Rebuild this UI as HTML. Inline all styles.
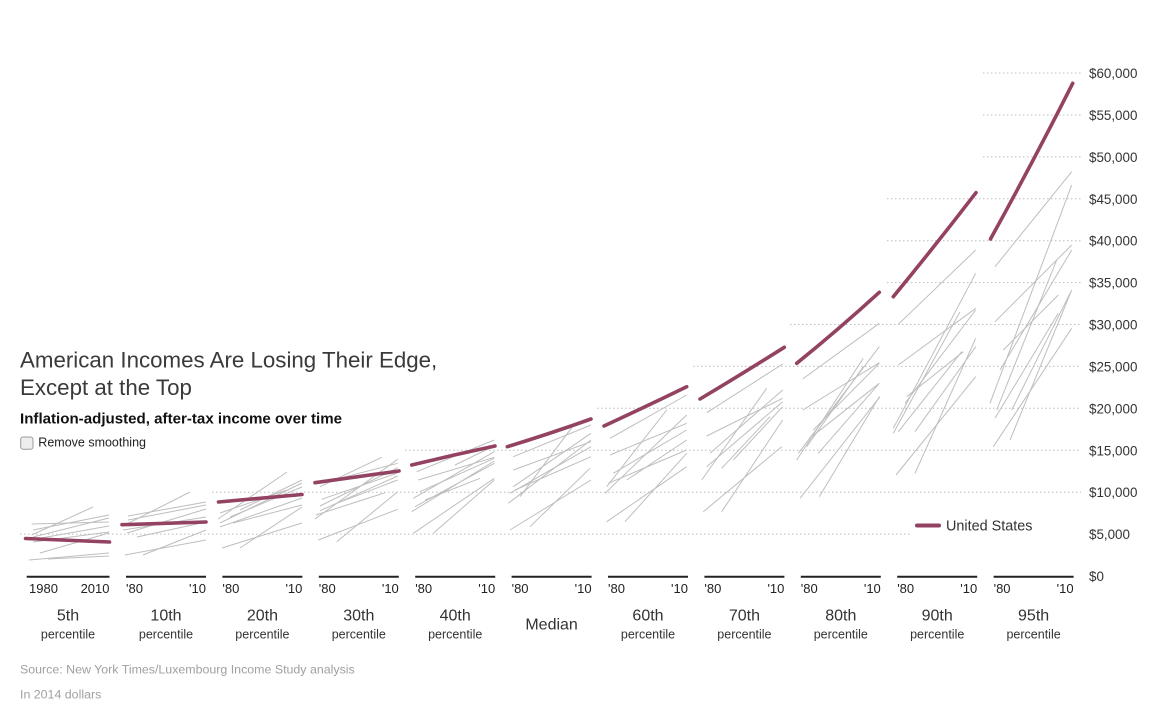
<!DOCTYPE html>
<html>
<head>
<meta charset="utf-8">
<style>
html,body{margin:0;padding:0;background:#fff;}
body{width:1164px;height:715px;overflow:hidden;}
svg{display:block;font-family:"Liberation Sans",Arial,sans-serif;}
.g{stroke:#bcbcbc;stroke-width:1;stroke-dasharray:1.5,2.5;}
.c{stroke:#bebebe;stroke-width:1;fill:none;}
.us{stroke:#934262;stroke-width:3.6;stroke-linecap:round;fill:none;}
.base{stroke:#222;stroke-width:2;}
.yl{font-size:13.4px;fill:#333;}
.tk{font-size:13px;fill:#222;}
.big{font-size:16px;fill:#333;}
.pc{font-size:12.5px;fill:#333;}
</style>
</head>
<body>
<svg width="1164" height="715" viewBox="0 0 1164 715" xmlns="http://www.w3.org/2000/svg">
<!-- gridlines -->
<line class="g" x1="20" y1="534.1" x2="911" y2="534.1"/>
<line class="g" x1="212" y1="492.2" x2="1081" y2="492.2"/>
<line class="g" x1="405" y1="450.3" x2="1081" y2="450.3"/>
<line class="g" x1="597" y1="408.3" x2="1081" y2="408.3"/>
<line class="g" x1="693" y1="366.4" x2="1081" y2="366.4"/>
<line class="g" x1="790" y1="324.5" x2="1081" y2="324.5"/>
<line class="g" x1="887" y1="282.6" x2="1081" y2="282.6"/>
<line class="g" x1="887" y1="240.7" x2="1081" y2="240.7"/>
<line class="g" x1="887" y1="198.8" x2="1081" y2="198.8"/>
<line class="g" x1="983" y1="156.9" x2="1081" y2="156.9"/>
<line class="g" x1="983" y1="115" x2="1081" y2="115"/>
<line class="g" x1="983" y1="73" x2="1081" y2="73"/>

<!-- y labels -->
<text class="yl" x="1089" y="78">$60,000</text>
<text class="yl" x="1089" y="120">$55,000</text>
<text class="yl" x="1089" y="161.9">$50,000</text>
<text class="yl" x="1089" y="203.8">$45,000</text>
<text class="yl" x="1089" y="245.7">$40,000</text>
<text class="yl" x="1089" y="287.6">$35,000</text>
<text class="yl" x="1089" y="329.5">$30,000</text>
<text class="yl" x="1089" y="371.4">$25,000</text>
<text class="yl" x="1089" y="413.3">$20,000</text>
<text class="yl" x="1089" y="455.3">$15,000</text>
<text class="yl" x="1089" y="497.2">$10,000</text>
<text class="yl" x="1089" y="539.1">$5,000</text>
<text class="yl" x="1089" y="581">$0</text>

<!-- gray country lines -->
<g class="c">
<!-- 5th -->
<line x1="31.7" y1="524" x2="109" y2="522"/>
<line x1="31.7" y1="535" x2="93" y2="507"/>
<line x1="33" y1="530" x2="109" y2="515"/>
<line x1="33" y1="537" x2="109" y2="518"/>
<line x1="33" y1="542" x2="109" y2="532"/>
<line x1="40" y1="553" x2="109" y2="533"/>
<line x1="29" y1="560" x2="109" y2="553"/>
<line x1="48" y1="559" x2="109" y2="556"/>
<line x1="30" y1="540" x2="109" y2="526"/>
<!-- 10th -->
<line x1="128" y1="516" x2="206" y2="502"/>
<line x1="125" y1="525" x2="190" y2="492"/>
<line x1="128" y1="520" x2="206" y2="505"/>
<line x1="123" y1="530" x2="206" y2="517"/>
<line x1="137" y1="537" x2="206" y2="522"/>
<line x1="125" y1="555" x2="206" y2="540"/>
<line x1="143" y1="555" x2="206" y2="530"/>
<line x1="127" y1="533" x2="206" y2="509"/>
<!-- 20th -->
<line x1="220" y1="523" x2="302" y2="483"/>
<line x1="222" y1="548" x2="302" y2="523"/>
<line x1="240" y1="548" x2="302" y2="507"/>
<line x1="220" y1="527" x2="302" y2="498"/>
<line x1="230" y1="517" x2="302" y2="487"/>
<line x1="240" y1="510" x2="302" y2="480"/>
<line x1="233" y1="523" x2="302" y2="505"/>
<line x1="220" y1="513" x2="287" y2="490"/>
<line x1="218" y1="519" x2="287" y2="472"/>
<!-- 30th -->
<line x1="320" y1="486.7" x2="381.7" y2="457.3"/>
<line x1="315" y1="519" x2="397.7" y2="459.3"/>
<line x1="320" y1="506" x2="397.7" y2="467.7"/>
<line x1="321.7" y1="499.3" x2="396.7" y2="473.3"/>
<line x1="316" y1="515" x2="385" y2="492.7"/>
<line x1="320" y1="510.7" x2="397.7" y2="476"/>
<line x1="318.3" y1="540" x2="397.7" y2="509.3"/>
<line x1="336.7" y1="541.7" x2="397.7" y2="491.7"/>
<line x1="336.7" y1="503.3" x2="397.7" y2="480"/>
<line x1="320" y1="483.3" x2="397.7" y2="463.3"/>
<!-- 40th -->
<line x1="416.7" y1="471.7" x2="494.3" y2="440"/>
<line x1="418.3" y1="480" x2="494.3" y2="457.3"/>
<line x1="413.3" y1="498.3" x2="494.3" y2="451.7"/>
<line x1="411.7" y1="511.7" x2="494.3" y2="461"/>
<line x1="413.3" y1="533.3" x2="494.3" y2="478.3"/>
<line x1="433.3" y1="533.3" x2="494.3" y2="480"/>
<line x1="425" y1="500" x2="480" y2="478.3"/>
<line x1="415" y1="506.7" x2="494.3" y2="463.3"/>
<line x1="420" y1="491.7" x2="494.3" y2="458.3"/>
<line x1="455" y1="465" x2="494" y2="446"/>
<!-- Median -->
<line x1="513.3" y1="456.7" x2="591" y2="425"/>
<line x1="513.3" y1="470" x2="591" y2="441.7"/>
<line x1="508.3" y1="503.3" x2="591" y2="440"/>
<line x1="510" y1="493.3" x2="591" y2="446.7"/>
<line x1="515" y1="490" x2="591" y2="456.7"/>
<line x1="510" y1="530" x2="591" y2="480"/>
<line x1="530" y1="526.7" x2="590" y2="468.3"/>
<line x1="520" y1="496.7" x2="575" y2="423.3"/>
<line x1="513.3" y1="486.7" x2="591" y2="433.3"/>
<!-- 60th -->
<line x1="610" y1="438.3" x2="686.7" y2="395"/>
<line x1="610" y1="455" x2="686.7" y2="423.3"/>
<line x1="605" y1="493.3" x2="686.7" y2="415"/>
<line x1="606.7" y1="521.7" x2="686.7" y2="466.7"/>
<line x1="625" y1="521.7" x2="686.7" y2="453.3"/>
<line x1="606.7" y1="486.7" x2="666.7" y2="410"/>
<line x1="613.3" y1="473.3" x2="686.7" y2="430"/>
<line x1="626.7" y1="480" x2="686.7" y2="440"/>
<line x1="608.3" y1="483.3" x2="686.7" y2="450"/>
<!-- 70th -->
<line x1="706.7" y1="412.7" x2="782.7" y2="364"/>
<line x1="706.7" y1="436" x2="782.7" y2="398.3"/>
<line x1="701.7" y1="480" x2="766.7" y2="388.3"/>
<line x1="703.3" y1="511.7" x2="781.7" y2="446.7"/>
<line x1="721.7" y1="511.7" x2="782.7" y2="420"/>
<line x1="710" y1="453.3" x2="782.7" y2="390"/>
<line x1="721.7" y1="468.3" x2="770" y2="416.7"/>
<line x1="706.7" y1="466.7" x2="782.7" y2="401.7"/>
<line x1="733.3" y1="460" x2="782.7" y2="406.7"/>
<!-- 80th -->
<line x1="802.7" y1="379" x2="879.3" y2="323.3"/>
<line x1="802.7" y1="410" x2="879.3" y2="362.7"/>
<line x1="796.7" y1="460" x2="863.3" y2="358.3"/>
<line x1="800" y1="498.3" x2="880" y2="396.7"/>
<line x1="819.3" y1="496.7" x2="879.3" y2="396.7"/>
<line x1="798.3" y1="453.3" x2="879.3" y2="346.7"/>
<line x1="811.7" y1="436.7" x2="879.3" y2="383.3"/>
<line x1="818.3" y1="453.3" x2="879.3" y2="383.3"/>
<line x1="806.7" y1="446.7" x2="863.3" y2="366.7"/>
<line x1="813.3" y1="430" x2="879.3" y2="363.3"/>
<!-- 90th -->
<line x1="898.3" y1="324.3" x2="975.7" y2="250"/>
<line x1="898.3" y1="365" x2="975.7" y2="308.3"/>
<line x1="896" y1="475" x2="975.7" y2="376.7"/>
<line x1="915" y1="473.3" x2="975.7" y2="338.3"/>
<line x1="893.3" y1="428.3" x2="975.7" y2="273.3"/>
<line x1="898.3" y1="431.7" x2="961.7" y2="351.7"/>
<line x1="915" y1="431.7" x2="975.7" y2="346.7"/>
<line x1="905" y1="403.3" x2="975.7" y2="310"/>
<line x1="893.3" y1="433.3" x2="960" y2="311.7"/>
<line x1="906.7" y1="396.7" x2="963.3" y2="351.7"/>
<!-- 95th -->
<line x1="995" y1="266.7" x2="1071.7" y2="171.7"/>
<line x1="995" y1="321.7" x2="1071.7" y2="245"/>
<line x1="993.3" y1="446.7" x2="1071.7" y2="328.3"/>
<line x1="1010" y1="440" x2="1071.7" y2="290"/>
<line x1="990" y1="403.3" x2="1071.7" y2="185"/>
<line x1="995" y1="418.3" x2="1058.3" y2="313.3"/>
<line x1="1003.3" y1="350" x2="1058.3" y2="295"/>
<line x1="1000" y1="370" x2="1071.7" y2="250"/>
<line x1="1011.7" y1="410" x2="1070" y2="293.3"/>
<line x1="996.7" y1="410" x2="1056.7" y2="260"/>
</g>

<!-- US lines -->
<g class="us">
<line x1="25.5" y1="538.5" x2="109.5" y2="542"/>
<line x1="122" y1="524.7" x2="206" y2="522"/>
<line x1="218.5" y1="502" x2="302" y2="494.5"/>
<line x1="315" y1="482.7" x2="399" y2="471"/>
<path d="M411.7 465 Q453 455 495 446"/>
<path d="M507.3 446.7 Q549 434 591 419"/>
<path d="M604 426 Q645 407 686.7 386.7"/>
<path d="M700 399 Q742 374 784.3 347.3"/>
<path d="M796.7 363.3 Q838 330 879.3 292.3"/>
<path d="M893.3 296.7 Q935 246 976 192.7"/>
<path d="M990.5 239 Q1032 164 1072.7 83.3"/>
</g>

<!-- baselines -->
<g class="base">
<line x1="26.7" y1="576.7" x2="109.5" y2="576.7"/>
<line x1="126" y1="576.7" x2="206" y2="576.7"/>
<line x1="222.4" y1="576.7" x2="302.4" y2="576.7"/>
<line x1="318.8" y1="576.7" x2="398.8" y2="576.7"/>
<line x1="415.2" y1="576.7" x2="495.2" y2="576.7"/>
<line x1="511.6" y1="576.7" x2="591.6" y2="576.7"/>
<line x1="608" y1="576.7" x2="688" y2="576.7"/>
<line x1="704.4" y1="576.7" x2="784.4" y2="576.7"/>
<line x1="800.8" y1="576.7" x2="880.8" y2="576.7"/>
<line x1="897.2" y1="576.7" x2="977.2" y2="576.7"/>
<line x1="993.6" y1="576.7" x2="1073.6" y2="576.7"/>
</g>

<!-- tick labels -->
<g class="tk">
<text x="29" y="593">1980</text><text x="109.5" y="593" text-anchor="end">2010</text>
<text x="126" y="593">'80</text><text x="206" y="593" text-anchor="end">'10</text>
<text x="222.4" y="593">'80</text><text x="302.4" y="593" text-anchor="end">'10</text>
<text x="318.8" y="593">'80</text><text x="398.8" y="593" text-anchor="end">'10</text>
<text x="415.2" y="593">'80</text><text x="495.2" y="593" text-anchor="end">'10</text>
<text x="511.6" y="593">'80</text><text x="591.6" y="593" text-anchor="end">'10</text>
<text x="608" y="593">'80</text><text x="688" y="593" text-anchor="end">'10</text>
<text x="704.4" y="593">'80</text><text x="784.4" y="593" text-anchor="end">'10</text>
<text x="800.8" y="593">'80</text><text x="880.8" y="593" text-anchor="end">'10</text>
<text x="897.2" y="593">'80</text><text x="977.2" y="593" text-anchor="end">'10</text>
<text x="993.6" y="593">'80</text><text x="1073.6" y="593" text-anchor="end">'10</text>
</g>

<!-- panel labels -->
<g text-anchor="middle">
<text class="big" x="68" y="620.7">5th</text><text class="pc" x="68" y="638.3">percentile</text>
<text class="big" x="166" y="620.7">10th</text><text class="pc" x="166" y="638.3">percentile</text>
<text class="big" x="262.4" y="620.7">20th</text><text class="pc" x="262.4" y="638.3">percentile</text>
<text class="big" x="358.8" y="620.7">30th</text><text class="pc" x="358.8" y="638.3">percentile</text>
<text class="big" x="455.2" y="620.7">40th</text><text class="pc" x="455.2" y="638.3">percentile</text>
<text class="big" x="551.6" y="629.3">Median</text>
<text class="big" x="648" y="620.7">60th</text><text class="pc" x="648" y="638.3">percentile</text>
<text class="big" x="744.4" y="620.7">70th</text><text class="pc" x="744.4" y="638.3">percentile</text>
<text class="big" x="840.8" y="620.7">80th</text><text class="pc" x="840.8" y="638.3">percentile</text>
<text class="big" x="937.2" y="620.7">90th</text><text class="pc" x="937.2" y="638.3">percentile</text>
<text class="big" x="1033.6" y="620.7">95th</text><text class="pc" x="1033.6" y="638.3">percentile</text>
</g>

<!-- legend -->
<line x1="917" y1="525.5" x2="939" y2="525.5" stroke="#934262" stroke-width="4" stroke-linecap="round"/>
<text x="946" y="530.7" font-size="14.4" fill="#333">United States</text>

<!-- title -->
<text x="20" y="367.3" font-size="22.3" fill="#3a3a3a">American Incomes Are Losing Their Edge,</text>
<text x="20" y="395" font-size="22.3" fill="#3a3a3a">Except at the Top</text>
<text x="20" y="423.3" font-size="15.1" font-weight="bold" fill="#111">Inflation-adjusted, after-tax income over time</text>
<rect x="20.7" y="437" width="12.3" height="12.3" rx="2.5" fill="#eeeeee" stroke="#9a9a9a" stroke-width="1"/>
<text x="38.3" y="446.7" font-size="12.5" fill="#222">Remove smoothing</text>

<!-- source -->
<text x="20" y="673.3" font-size="12.4" fill="#a0a0a0">Source: New York Times/Luxembourg Income Study analysis</text>
<text x="20" y="698.3" font-size="12.4" fill="#a0a0a0">In 2014 dollars</text>
</svg>
</body>
</html>
